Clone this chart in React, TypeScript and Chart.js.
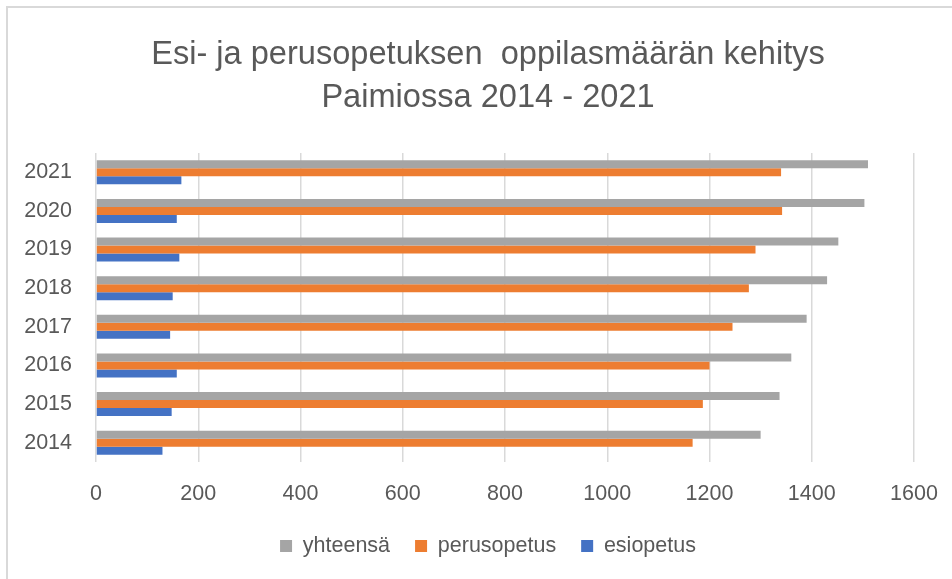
import React, { useEffect, useRef } from "react";
import { Chart, registerables } from "chart.js";

Chart.register(...registerables);

const years = ["2014", "2015", "2016", "2017", "2018", "2019", "2020", "2021"];
const yhteensa = [1300, 1337, 1360, 1390, 1430, 1452, 1503, 1510];
const perusopetus = [1167, 1187, 1200, 1245, 1277, 1290, 1342, 1340];
const esiopetus = [130, 148, 158, 145, 150, 163, 158, 167];
const titleLines = ["Esi- ja perusopetuksen  oppilasmäärän kehitys", "Paimiossa 2014 - 2021"];

const FONT = '"Liberation Sans", Arial, sans-serif';
const TEXT = "#595959";

// shifts the title and legend boxes so that they centre like the reference
const centerShift = {
  id: "centerShift",
  afterLayout(chart: any) {
    if (chart.titleBlock) chart.titleBlock.left = 62;
    if (chart.legend) chart.legend.left = 62;
  },
};

export default function App() {
  const ref = useRef<HTMLCanvasElement | null>(null);

  useEffect(() => {
    if (!ref.current) return;
    const chart = new Chart(ref.current, {
      type: "bar",
      data: {
        labels: years,
        datasets: [
          { label: "yhteensä", data: yhteensa, backgroundColor: "#A5A5A5" },
          { label: "perusopetus", data: perusopetus, backgroundColor: "#ED7D31" },
          { label: "esiopetus", data: esiopetus, backgroundColor: "#4472C4" },
        ],
      },
      plugins: [centerShift],
      options: {
        indexAxis: "y",
        responsive: false,
        animation: false,
        datasets: { bar: { categoryPercentage: 0.62, barPercentage: 1 } },
        layout: { padding: { left: 0, right: 38, top: 0, bottom: 12.25 } },
        plugins: {
          title: {
            display: true,
            text: titleLines,
            color: TEXT,
            font: { family: FONT, size: 32.6, lineHeight: 1.32, weight: "normal" },
            padding: { top: 33.2, bottom: 33.7 },
          },
          legend: {
            position: "bottom",
            labels: {
              color: TEXT,
              font: { family: FONT, size: 21.5 },
              boxWidth: 12,
              boxHeight: 12,
              padding: 25,
            },
          },
          tooltip: { enabled: false },
        },
        scales: {
          x: {
            min: 0,
            max: 1600,
            ticks: {
              stepSize: 200,
              color: TEXT,
              font: { family: FONT, size: 21.5 },
              padding: 0,
              callback: (v: any) => String(v),
            },
            grid: { color: "#d9d9d9", lineWidth: 1.5, drawTicks: true, tickLength: 19, tickColor: "rgba(0,0,0,0)" },
            border: { display: false },
            afterFit: (s: any) => { s.height = 48.25; },
          },
          y: {
            reverse: true,
            ticks: { color: TEXT, font: { family: FONT, size: 21.5 }, padding: 24 },
            grid: { display: false, drawTicks: false },
            border: { display: false },
            afterFit: (s: any) => { s.width = 96; },
          },
        },
      },
    });
    return () => chart.destroy();
  }, []);

  return (
    <div style={{ position: "fixed", left: 0, top: 0, width: 952, height: 579, overflow: "hidden", background: "#fff" }}>
      <canvas ref={ref} width={952} height={579} style={{ width: 952, height: 579, display: "block" }} />
      <div style={{ position: "absolute", left: 6, top: 6, width: 2000, height: 2000, borderLeft: "2px solid #d9d9d9", borderTop: "2px solid #d9d9d9", pointerEvents: "none" }} />
    </div>
  );
}
